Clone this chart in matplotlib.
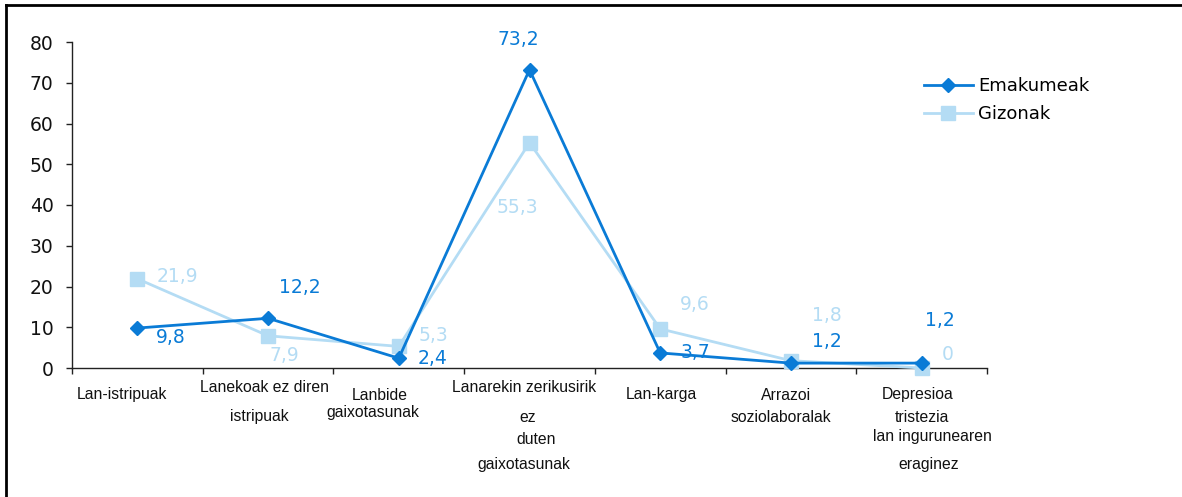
import matplotlib
matplotlib.use("Agg")
import matplotlib.pyplot as plt
from matplotlib.lines import Line2D
import matplotlib.transforms as mtransforms

# ---- data ----
categories = [
    ["Lan-istripuak"],
    ["Lanekoak ez diren", "istripuak"],
    ["Lanbide", "gaixotasunak"],
    ["Lanarekin zerikusirik", "ez", "duten", "gaixotasunak"],
    ["Lan-karga"],
    ["Arrazoi", "soziolaboralak"],
    ["Depresioa", "tristezia", "lan ingurunearen", "eraginez"],
]
emakumeak = [9.8, 12.2, 2.4, 73.2, 3.7, 1.2, 1.2]
gizonak = [21.9, 7.9, 5.3, 55.3, 9.6, 1.8, 0]
emakumeak_labels = ["9,8", "12,2", "2,4", "73,2", "3,7", "1,2", "1,2"]
gizonak_labels = ["21,9", "7,9", "5,3", "55,3", "9,6", "1,8", "0"]
yticks = [0, 10, 20, 30, 40, 50, 60, 70, 80]

# ---- layout / styles ----
W, H = 1182, 497
DARK = "#0a7bd6"
LIGHT = "#b4dcf4"
# label offsets in pixels (dx, dy down-positive)
em_off = [(33, 9), (32, -31), (34, 0), (-11, -30), (35, 0), (36, -22), (18, -43)]
gz_off = [(40, -2), (16, 20), (35, -11), (-12, 65), (35, -24), (36, -45), (26, -13)]
# category text line positions: (dx from category center, y pixel in figure)
cat_pos = [
    [(-15, 395)],
    [(-4, 387), (-9, 417)],
    [(-19, 395), (-26, 412)],
    [(-5, 387), (-2, 417), (7, 440), (-6, 464)],
    [(1, 395)],
    [(-5, 395), (-10, 417)],
    [(-4, 395), (0, 417), (11, 437), (7, 464)],
]

fig = plt.figure(figsize=(W / 100, H / 100), dpi=100)
ax = fig.add_axes([72 / W, 1 - 368 / H, (987 - 72) / W, (368 - 42) / H])

x = list(range(len(emakumeak)))
ax.plot(x, gizonak, color=LIGHT, lw=2, marker="s", ms=10.5, mec=LIGHT, mfc=LIGHT,
        label="Gizonak", zorder=3, clip_on=False)
ax.plot(x, emakumeak, color=DARK, lw=2, marker="D", ms=7.5, mec=DARK, mfc=DARK,
        label="Emakumeak", zorder=4, clip_on=False)

ax.set_xlim(-0.5, len(x) - 0.5)
ax.set_ylim(0, 80)
ax.set_yticks(yticks)
ax.set_yticklabels([str(v) for v in yticks], fontsize=13.5, color="#111111")
ax.set_xticks([i - 0.5 for i in range(len(x) + 1)])
ax.set_xticklabels([])
ax.tick_params(axis="both", direction="out", length=4.3, width=1, color="#222222")
ax.tick_params(axis="y", pad=9)
for s in ["top", "right"]:
    ax.spines[s].set_visible(False)
for s in ["left", "bottom"]:
    ax.spines[s].set_color("#222222")
    ax.spines[s].set_linewidth(1)

# data labels
for i, (v, lab) in enumerate(zip(emakumeak, emakumeak_labels)):
    dx, dy = em_off[i]
    ax.annotate(lab, (i, v), xytext=(dx, -dy), textcoords="offset pixels",
                ha="center", va="center", fontsize=13.5, color=DARK,
                annotation_clip=False, zorder=5)
for i, (v, lab) in enumerate(zip(gizonak, gizonak_labels)):
    dx, dy = gz_off[i]
    ax.annotate(lab, (i, v), xytext=(dx, -dy), textcoords="offset pixels",
                ha="center", va="center", fontsize=13.5, color=LIGHT,
                annotation_clip=False, zorder=5)

# category labels
for i, lines in enumerate(categories):
    for line, (dx, ypix) in zip(lines, cat_pos[i]):
        trans = mtransforms.blended_transform_factory(ax.transData, fig.transFigure)
        trans = trans + mtransforms.ScaledTranslation(dx / 100, 0, fig.dpi_scale_trans)
        fig.text(i, 1 - ypix / H, line, transform=trans, ha="center", va="center",
                 fontsize=11.3, family="Liberation Sans", color="#111111")

# legend
handles = [
    Line2D([], [], color=DARK, lw=2, marker="D", ms=7.5, mfc=DARK, mec=DARK),
    Line2D([], [], color=LIGHT, lw=2, marker="s", ms=10.5, mfc=LIGHT, mec=LIGHT),
]
fig.legend(handles, ["Emakumeak", "Gizonak"], loc="upper left",
           bbox_to_anchor=(915 / W, 1 - 68 / H), frameon=False, fontsize=13,
           handlelength=2.7, handletextpad=0.3, labelspacing=0.55, borderpad=0)

# outer frame (left and top visible)
fig.add_artist(Line2D([6 / W, 6 / W], [0, 1 - 5 / H], transform=fig.transFigure,
                      color="black", lw=2))
fig.add_artist(Line2D([6 / W, 1], [1 - 5 / H, 1 - 5 / H], transform=fig.transFigure,
                      color="black", lw=2))

fig.savefig("out.png", dpi=100)
